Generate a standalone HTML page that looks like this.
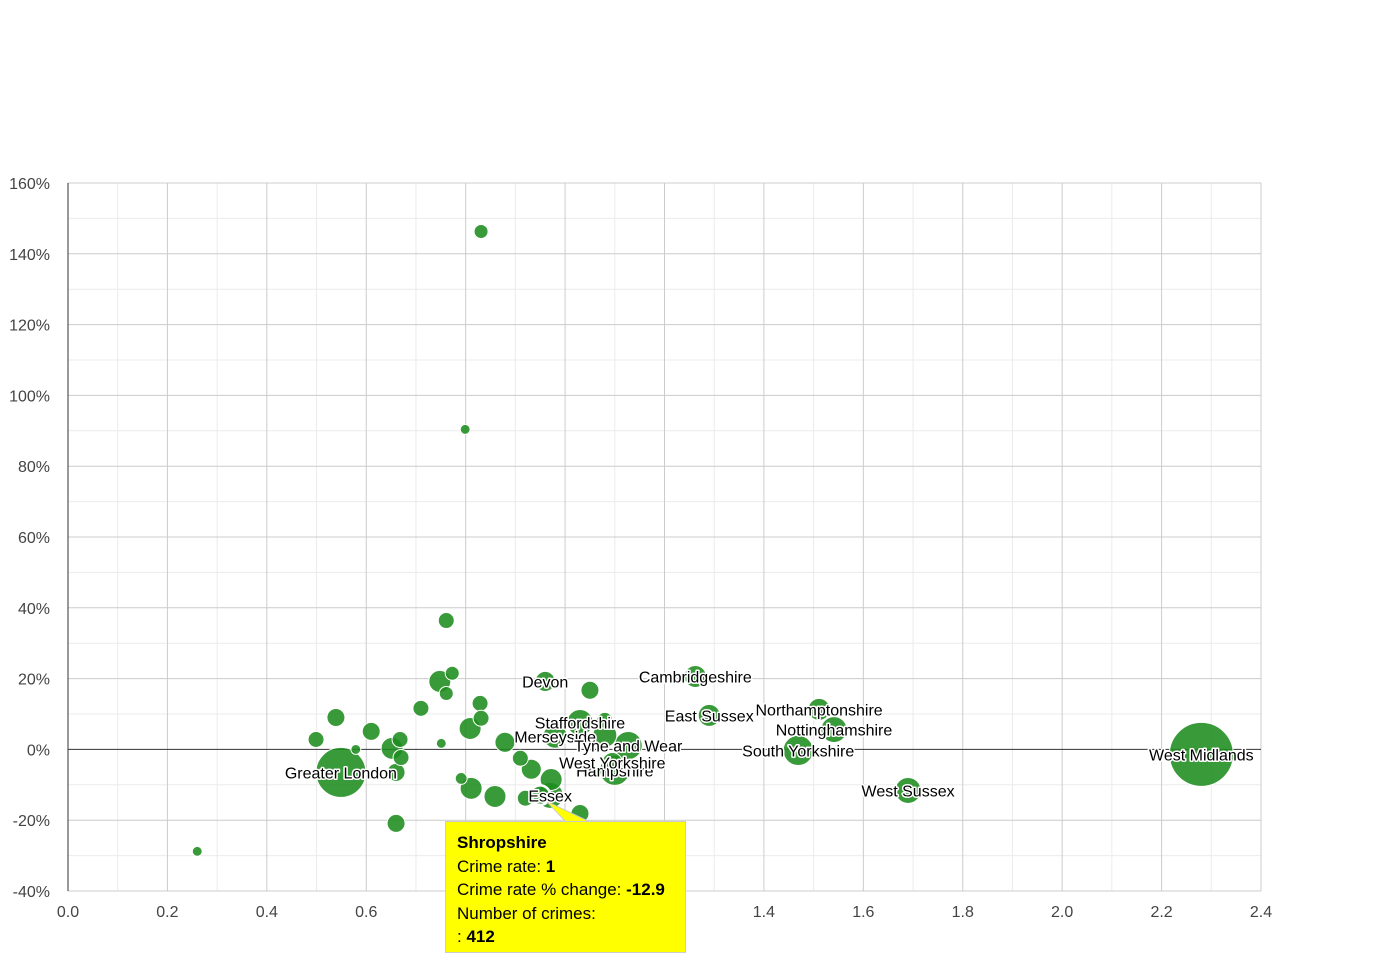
<!DOCTYPE html>
<html><head><meta charset="utf-8"><style>
body{margin:0;background:#fff;width:1390px;height:980px;overflow:hidden;font-family:"Liberation Sans",Arial,sans-serif}
svg text{font-family:"Liberation Sans",Arial,sans-serif}
#tip{position:absolute;left:445px;top:821px;width:241px;height:132px;background:#ffff00;border:1px solid #ccc;box-sizing:border-box;padding:9px 11px;font-size:17px;line-height:23.5px;color:#000}
</style></head><body>
<svg id="chart" width="1390" height="980" style="position:absolute;left:0;top:0"></svg>
<div id="tip"><b>Shropshire</b><br>Crime rate: <b>1</b><br>Crime rate % change: <b>-12.9</b><br>Number of crimes:<br>: <b>412</b></div>
<script>
const names=["","","","","","","","","","","","","","","","Greater London","","","","","","","","","","","","","","Shropshire","","Essex","Devon","","","Staffordshire","Merseyside","","Tyne and Wear","Hampshire","West Yorkshire","","Cambridgeshire","East Sussex","Northamptonshire","Nottinghamshire","South Yorkshire","West Sussex","West Midlands",""];
const rates=[0.831,0.799,0.761,0.748,0.773,0.761,0.710,0.539,0.610,0.499,0.579,0.652,0.668,0.670,0.660,0.549,0.660,0.260,0.751,0.829,0.831,0.809,0.791,0.811,0.859,0.879,0.910,0.932,0.920,0.950,0.972,0.970,0.960,1.050,1.030,1.030,0.980,1.080,1.127,1.100,1.095,1.042,1.262,1.290,1.511,1.541,1.469,1.690,2.280,1.080];
const changes=[146.3,90.4,36.4,19.2,21.5,15.8,11.6,9.0,5.1,2.8,0,0.3,2.8,-2.3,-6.5,-6.5,-20.9,-28.8,1.7,13.0,8.8,5.9,-8.2,-11.0,-13.3,2.0,-2.5,-5.6,-13.8,-12.9,-8.5,-13,19.2,16.7,-18.1,7.6,3.7,4.0,1.1,-5.9,-3.7,-5.4,20.6,9.6,11.3,5.6,-0.3,-11.6,-1.4,8.2];
const crimes=[250,125,325,615,250,250,325,412,412,325,125,615,325,325,412,3180,412,125,125,325,325,615,180,615,615,510,325,510,325,412,615,860,510,412,412,860,730,730,1000,1150,510,180,615,615,615,860,1150,860,5210,325];
const xTicks=[0,0.2,0.4,0.6,0.8,1.0,1.2,1.4,1.6,1.8,2.0,2.2,2.4];
const yTicks=[-40,-20,0,20,40,60,80,100,120,140,160];
const L=68,R=1261,T=183,B=891;
const xs=v=>L+(v-0)/(2.4)*(R-L);
const ys=v=>B-(v+40)/200*(B-T);
const rs=n=>9*Math.sqrt(n/412);
const svg=document.getElementById('chart');const NS='http://www.w3.org/2000/svg';
function mk(t,a,p){const e=document.createElementNS(NS,t);for(const k in a)e.setAttribute(k,a[k]);(p||svg).appendChild(e);return e;}
// minor grid
for(let i=0;i<xTicks.length-1;i++){const v=(xTicks[i]+xTicks[i+1])/2;const l=mk('line',{x1:xs(v),x2:xs(v),y1:T,y2:B,stroke:'#ebebeb'});}
for(let i=0;i<yTicks.length-1;i++){const v=(yTicks[i]+yTicks[i+1])/2;const l=mk('line',{x1:L,x2:R,y1:ys(v),y2:ys(v),stroke:'#ebebeb'});}
xTicks.forEach(v=>{const l=mk('line',{x1:xs(v),x2:xs(v),y1:T,y2:B,stroke:'#ccc'});
const t=mk('text',{x:xs(v),y:917,'text-anchor':'middle','font-size':16,fill:'#444'});t.textContent=v.toFixed(1);});
yTicks.forEach(v=>{const l=mk('line',{x1:L,x2:R,y1:ys(v),y2:ys(v),stroke:v===0?'#333':'#ccc'});
const t=mk('text',{x:50,y:ys(v)+6,'text-anchor':'end','font-size':16,fill:'#444'});t.textContent=v+'%';});
const ax=mk('line',{x1:L,x2:L,y1:T,y2:B,stroke:'#333'});
// bubbles (big first)
const idx=rates.map((_,i)=>i).sort((a,b)=>crimes[b]-crimes[a]);
idx.forEach(i=>{const c=mk('circle',{cx:xs(rates[i]),cy:ys(changes[i]),r:rs(crimes[i]),fill:'#1e8c1e','fill-opacity':0.88,stroke:'#fff','stroke-width':1});

});
// tooltip pointer & highlight
const si=names.indexOf('Shropshire');
const hl=mk('circle',{cx:xs(rates[si]),cy:ys(changes[si]),r:rs(crimes[si])+1,fill:'none',stroke:'#fff','stroke-width':2});


const pt=mk('polygon',{points:`${xs(rates[si])+6},${ys(changes[si])+6} 566,822 590,822`,fill:'#ffff00',stroke:'#ccc'});


// labels
names.forEach((n,i)=>{if(!n||n==='Shropshire')return;
const t=mk('text',{x:xs(rates[i]),y:ys(changes[i])+6,'text-anchor':'middle','font-size':16,fill:'#000',stroke:'#fff','stroke-width':3,'paint-order':'stroke','stroke-linejoin':'round'});t.textContent=n;

});
</script>
</body></html>
